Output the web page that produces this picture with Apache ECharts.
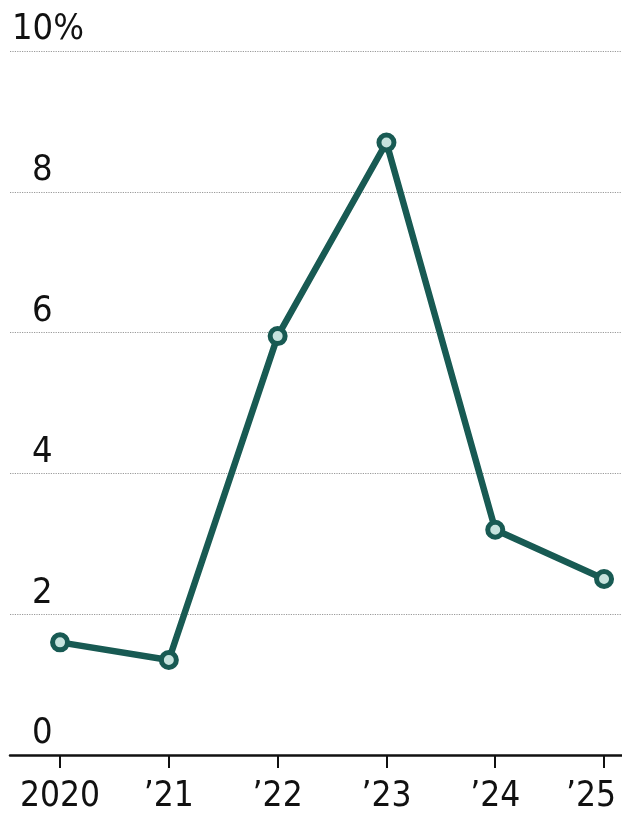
<!DOCTYPE html>
<html>
<head>
<meta charset="utf-8">
<script src="https://cdn.jsdelivr.net/npm/echarts@6/dist/echarts.min.js"></script>
<style>
  html, body { margin: 0; padding: 0; background: #fff; }
  #chart { width: 622px; height: 823px; }
</style>
</head>
<body>
<div id="chart"></div>
<script>
const years = ['2020', '\u201921', '\u201922', '\u201923', '\u201924', '\u201925']
const rates = [1.6, 1.35, 5.95, 8.7, 3.2, 2.5]
const yTicks = [0, 2, 4, 6, 8, 10]

const font = '"Liberation Sans Narrow", "DejaVu Sans Condensed", "Liberation Sans", sans-serif'
const teal = '#185a53'

const chart = echarts.init(document.getElementById('chart'))

chart.setOption({
    animation: false,
    grid: { left: 10, right: 0, top: 51, bottom: 68, outerBoundsMode: 'none', containLabel: false },
    xAxis: {
        type: 'value',
        min: -0.46,
        max: 5.165,
        axisLine: { show: true, lineStyle: { color: '#111', width: 2.5 } },
        axisTick: {
            show: true,
            customValues: years.map((_, i) => i),
            length: 13,
            lineStyle: { color: '#111', width: 2 }
        },
        axisLabel: {
            customValues: years.map((_, i) => i),
            // last label nudged left so it stays inside the page
            formatter: v => (v === years.length - 1 ? '{last|' + years[v] + '}' : years[v]),
            fontFamily: font,
            fontSize: 35,
            color: '#111',
            margin: 24,
            rich: {
                last: { fontFamily: font, fontSize: 35, color: '#111', padding: [0, 26, 0, 0] }
            }
        },
        splitLine: { show: false }
    },
    yAxis: {
        type: 'value',
        min: yTicks[0],
        max: yTicks[yTicks.length - 1],
        interval: 2,
        axisLine: { show: false },
        axisTick: { show: false },
        axisLabel: {
            inside: true,
            align: 'left',
            verticalAlign: 'bottom',
            margin: 2,
            color: '#111',
            fontFamily: font,
            fontSize: 36,
            formatter: v => (v === 10 ? '{a|10%}' : '{b|' + v + '}'),
            rich: {
                a: { fontFamily: font, fontSize: 36, color: '#111', padding: [0, 0, 3, 0] },
                b: { fontFamily: font, fontSize: 36, color: '#111', padding: [0, 0, 3, 20] }
            }
        },
        splitLine: { show: true, lineStyle: { color: '#9a9a9a', type: 'dotted', width: 1.2 } }
    },
    series: [{
        type: 'line',
        data: rates.map((v, i) => [i, v]),
        lineStyle: { color: teal, width: 6.5 },
        symbol: 'circle',
        symbolSize: 15,
        itemStyle: { color: '#c6e3de', borderColor: teal, borderWidth: 5 },
        z: 5
    }]
})

window.addEventListener('resize', () => chart.resize())
</script>
</body>
</html>
